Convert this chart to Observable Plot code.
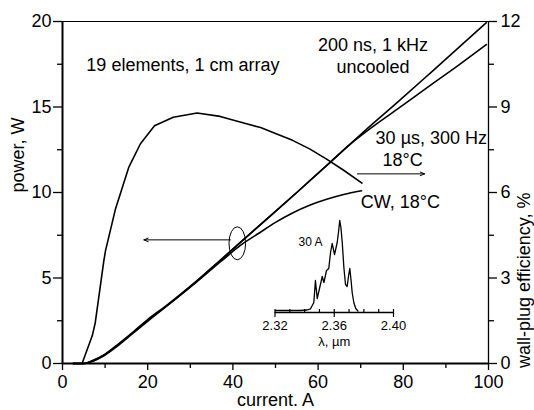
<!DOCTYPE html>
<html><head><meta charset="utf-8">
<script src="https://cdn.jsdelivr.net/npm/d3@7"></script>
<script src="https://cdn.jsdelivr.net/npm/@observablehq/plot@0.6"></script>
<style>
body{margin:0;background:#fff;}
#wrap{position:relative;width:534px;height:410px;font-family:"Liberation Sans",Arial,Helvetica,sans-serif;}
#wrap svg{position:absolute;overflow:visible}
</style></head><body><div id="wrap"></div>
<script>
// ---- data ----
const current200 = [2.5, 5, 7.3, 9.7, 12.8, 16.7, 19.9, 24.6, 30.8, 37.1, 45, 55, 62.9, 70.7, 78.6, 86.4, 99.5];
const power200   = [0, 0, 0.18, 0.47, 1.05, 1.83, 2.5, 3.4, 4.66, 6.05, 7.8, 10.0, 11.78, 13.55, 15.27, 17.0, 19.93];

const current30 = [2.5, 5, 7.3, 9.7, 12.8, 16.7, 19.9, 24.6, 30.8, 37.1, 45, 55, 62.9, 68.4, 73.1, 80, 86.4, 93, 99.5];
const power30   = [0, 0, 0.2, 0.5, 1.08, 1.87, 2.55, 3.43, 4.68, 6.05, 7.8, 10.0, 11.78, 13.0, 13.9, 15.12, 16.28, 17.45, 18.65];

const currentCW = [2.5, 5, 7.3, 9.7, 12.8, 16.7, 19.9, 24.6, 30.8, 37.1, 42, 46, 50, 54, 58, 62, 66, 70.2];
const powerCW   = [0, 0, 0.15, 0.45, 1.0, 1.8, 2.45, 3.38, 4.62, 5.95, 6.95, 7.6, 8.25, 8.8, 9.25, 9.6, 9.88, 10.1];

const currentEff = [2.5, 4.6, 7, 7.7, 9.7, 10.1, 12.4, 15.6, 18.3, 21.6, 26, 31.6, 37, 43.4, 46.5, 50, 54, 58, 62, 66, 70.3];
const efficiency = [0, 0, 0.98, 1.44, 3.6, 3.96, 5.4, 6.9, 7.71, 8.34, 8.64, 8.79, 8.67, 8.4, 8.28, 8.07, 7.83, 7.53, 7.17, 6.78, 6.33]; // %

const lambda    = [2.3203, 2.3372, 2.3417, 2.344, 2.3462, 2.3473, 2.3485, 2.3502, 2.3519, 2.353, 2.3548, 2.3563, 2.3575, 2.3586, 2.3602, 2.362, 2.363, 2.3637, 2.3645, 2.3654, 2.3665, 2.3676, 2.3687, 2.3698, 2.3705, 2.3713, 2.3721, 2.3732, 2.3745, 2.376];
const intensity = [2, 2, 2.5, 3.7, 10, 32, 14, 25, 36, 30, 42, 44, 60, 69, 58, 70, 82, 92, 85, 70, 45, 28, 26, 38, 44, 33, 20, 10, 4, 1.5];

const xTicks = [0, 20, 40, 60, 80, 100];
const xMinor = [10, 30, 50, 70, 90];
const yTicks = [0, 5, 10, 15, 20];
const yMinor = [2.5, 7.5, 12.5, 17.5];
const effTicks = [0, 3, 6, 9, 12];
const effMinor = [1.5, 4.5, 7.5, 10.5];
const insetTicks = [2.32, 2.36, 2.40];
const insetMinor = [2.33, 2.34, 2.35, 2.37, 2.38, 2.39];

const noteText   = ["19 elements, 1 cm array", "200 ns, 1 kHz", "uncooled", "30 µs, 300 Hz", "18°C", "CW, 18°C"];
const noteX      = [5.6, 72.9, 72.9, 73.5, 75.1, 70];
const noteY      = [17.43, 18.6, 17.3, 13.2, 11.87, 9.44];
const noteCenter = [false, true, true, false, false, false];

const arrowX1 = [39.4, 69.2];
const arrowX2 = [19.1, 85.0];
const arrowY  = [7.23, 11.09];
const ellipseCenter = [41.15, 7.0];
const ellipseRadii  = [1.95, 0.965]; // in A and W

const effScale = 0.6; // 12 % <-> 20 W
// ---- build ----
const font = '"Liberation Sans", Arial, Helvetica, sans-serif';
const pts = (xs, ys) => xs.map((x, i) => ({x, y: ys[i]}));
const notes = noteText.map((t, i) => ({t, x: noteX[i], y: noteY[i], c: noteCenter[i]}));
const arrows = arrowX1.map((x1, i) => ({x1, x2: arrowX2[i], y: arrowY[i]}));
const lineOpts = {x: "x", y: "y", stroke: "black", strokeWidth: 1.6, curve: "monotone-x"};

const chart = Plot.plot({
  width: 534, height: 410,
  marginLeft: 62, marginRight: 46, marginTop: 21, marginBottom: 47,
  style: {fontFamily: font, fontSize: "18px", color: "black", background: "transparent"},
  x: {domain: [0, 100]},
  y: {domain: [0, 20]},
  marks: [
    Plot.axisX(xTicks, {tickSize: 7, tickPadding: 5, fontSize: 18, strokeWidth: 1.3, label: null}),
    Plot.axisX(xMinor, {tickSize: 5, tickFormat: () => "", strokeWidth: 1.3, label: null}),
    Plot.axisY(yTicks, {anchor: "left", tickSize: 9, tickPadding: 2, fontSize: 18, strokeWidth: 1.3, label: null}),
    Plot.axisY(yMinor, {anchor: "left", tickSize: 5, tickFormat: () => "", strokeWidth: 1.3, label: null}),
    Plot.axisY(effTicks.map(e => e / effScale), {anchor: "right", tickSize: 8, tickPadding: 4, fontSize: 18, strokeWidth: 1.3, tickFormat: d => String(Math.round(d * effScale)), label: null}),
    Plot.axisY(effMinor.map(e => e / effScale), {anchor: "right", tickSize: 5, tickFormat: () => "", strokeWidth: 1.3, label: null}),
    Plot.ruleY([20], {strokeWidth: 1}),
    Plot.ruleX([100], {strokeWidth: 1.3}),
    Plot.ruleX([0], {strokeWidth: 2}),
    Plot.ruleY([0], {strokeWidth: 2}),
    Plot.line(pts(current200, power200), lineOpts),
    Plot.line(pts(current30, power30), lineOpts),
    Plot.line(pts(currentCW, powerCW), lineOpts),
    Plot.line(pts(currentEff, efficiency.map(e => e / effScale)), {...lineOpts, curve: "linear"}),
    Plot.text(notes.filter(d => !d.c), {x: "x", y: "y", text: "t", textAnchor: "start", fontSize: 18, fill: "black"}),
    Plot.text(notes.filter(d => d.c), {x: "x", y: "y", text: "t", textAnchor: "middle", fontSize: 18, fill: "black"}),
    Plot.arrow(arrows, {x1: "x1", x2: "x2", y1: "y", y2: "y", stroke: "black", strokeWidth: 1, headLength: 7, headAngle: 45}),
    Plot.text(["power, W"], {frameAnchor: "left", rotate: -90, dx: -44, lineAnchor: "middle", fontSize: 18, fill: "black"}),
    Plot.text(["wall-plug efficiency, %"], {frameAnchor: "right", rotate: -90, dx: 36, lineAnchor: "middle", fontSize: 18, fill: "black"}),
    Plot.text(["current. A"], {frameAnchor: "bottom", dy: 37, lineAnchor: "middle", fontSize: 18, fill: "black"})
  ]
});
chart.style.left = "0px"; chart.style.top = "0px";
document.getElementById("wrap").appendChild(chart);

// ellipse marker via the chart scales
const sx = chart.scale("x"), sy = chart.scale("y");
const cx = sx.apply(ellipseCenter[0]), cy = sy.apply(ellipseCenter[1]);
const rx = sx.apply(ellipseCenter[0] + ellipseRadii[0]) - cx;
const ry = cy - sy.apply(ellipseCenter[1] + ellipseRadii[1]);
d3.select(chart).append("ellipse").attr("cx", cx).attr("cy", cy).attr("rx", rx).attr("ry", ry)
  .attr("fill", "none").attr("stroke", "black").attr("stroke-width", 1);

// inset spectrum
const inset = Plot.plot({
  width: 170, height: 160,
  marginLeft: 24.5, marginRight: 27, marginTop: 12, marginBottom: 48,
  style: {fontFamily: font, fontSize: "13px", color: "black", background: "transparent"},
  x: {domain: [2.32, 2.40]},
  y: {domain: [0, 100], axis: null},
  marks: [
    Plot.ruleY([0], {strokeWidth: 1.4}),
    Plot.axisX(insetTicks, {tickSize: 5, tickPadding: 3, fontSize: 13, tickFormat: d => d.toFixed(2), strokeWidth: 1.2, label: null}),
    Plot.ruleX(insetMinor, {y1: 0, y2: 3, strokeWidth: 1.2}),
    Plot.ruleX(insetTicks, {y1: 0, y2: 3, strokeWidth: 1.2}),
    Plot.line(pts(lambda, intensity), {x: "x", y: "y", stroke: "black", strokeWidth: 1.3}),
    Plot.text(["30 A"], {x: [2.344], y: [70], fontSize: 12, fill: "black"}),
    Plot.text(["λ, µm"], {frameAnchor: "bottom", dy: 29, lineAnchor: "middle", fontSize: 13, fill: "black"})
  ]
});
inset.style.left = "250px"; inset.style.top = "200px";
document.getElementById("wrap").appendChild(inset);
</script>
</body></html>
